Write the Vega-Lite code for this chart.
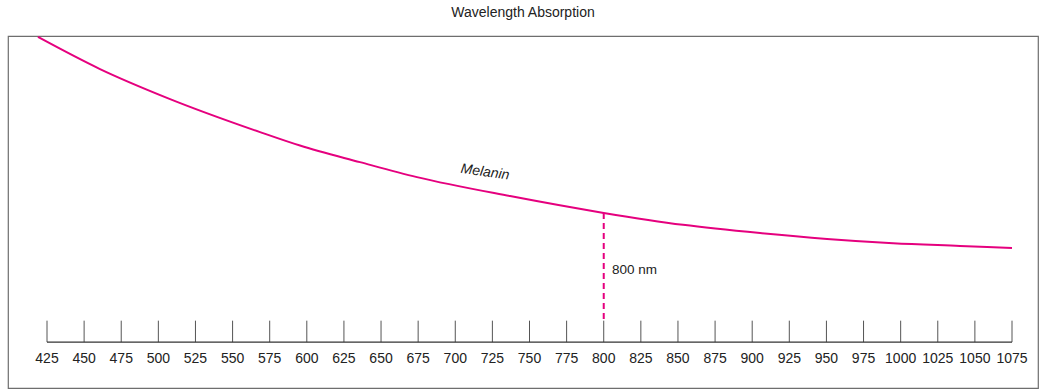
{
  "$schema": "https://vega.github.io/schema/vega-lite/v6.json",
  "width": 1030,
  "height": 352,
  "autosize": {"type": "none"},
  "padding": {"left": 8, "top": 36, "right": 10, "bottom": 2},
  "title": {"text": "Wavelength Absorption", "fontSize": 14, "fontWeight": "normal", "font": "Liberation Sans", "color": "#222222", "anchor": "middle", "offset": 13},
  "config": {
    "view": {"stroke": "#6e6e6e", "strokeWidth": 1.2},
    "font": "Liberation Sans"
  },
  "datasets": {
    "curve": [
      {"nm": 418.9, "abs": 99.7},
      {"nm": 460.7, "abs": 89.2},
      {"nm": 505.8, "abs": 79.8},
      {"nm": 568.5, "abs": 68.6},
      {"nm": 595.4, "abs": 64.2},
      {"nm": 635.8, "abs": 58.8},
      {"nm": 674.2, "abs": 53.9},
      {"nm": 736.9, "abs": 47.7},
      {"nm": 800, "abs": 42.2},
      {"nm": 853.4, "abs": 38.3},
      {"nm": 905.3, "abs": 35.6},
      {"nm": 950.4, "abs": 33.7},
      {"nm": 994.9, "abs": 32.3},
      {"nm": 1040, "abs": 31.4},
      {"nm": 1075, "abs": 30.7}
    ],
    "ticks": [
      {"nm": 425}, {"nm": 450}, {"nm": 475}, {"nm": 500}, {"nm": 525}, {"nm": 550}, {"nm": 575},
      {"nm": 600}, {"nm": 625}, {"nm": 650}, {"nm": 675}, {"nm": 700}, {"nm": 725}, {"nm": 750},
      {"nm": 775}, {"nm": 800}, {"nm": 825}, {"nm": 850}, {"nm": 875}, {"nm": 900}, {"nm": 925},
      {"nm": 950}, {"nm": 975}, {"nm": 1000}, {"nm": 1025}, {"nm": 1050}, {"nm": 1075}
    ],
    "marker": [{"nm": 800, "top": 42.2, "bottom": 7, "label": "800 nm", "labelNm": 805.6, "labelAbs": 23.5}],
    "axisline": [{"start": 425, "end": 1075, "level": 0}],
    "series": [{"name": "Melanin", "nm": 720, "abs": 55.5}]
  },
  "encoding": {
    "x": {"type": "quantitative", "scale": {"domain": [398.73, 1092.51], "nice": false, "zero": false}, "axis": null},
    "y": {"type": "quantitative", "scale": {"domain": [-15, 100], "nice": false, "zero": false}, "axis": null}
  },
  "layer": [
    {
      "data": {"name": "ticks"},
      "mark": {"type": "rule", "color": "#555555", "strokeWidth": 1},
      "encoding": {
        "x": {"field": "nm", "type": "quantitative"},
        "y": {"datum": 0, "type": "quantitative"},
        "y2": {"datum": 7}
      }
    },
    {
      "data": {"name": "ticks"},
      "mark": {"type": "text", "align": "center", "baseline": "top", "dy": 10, "fontSize": 14, "color": "#222222", "font": "Liberation Sans"},
      "encoding": {
        "x": {"field": "nm", "type": "quantitative"},
        "y": {"datum": 0, "type": "quantitative"},
        "text": {"field": "nm", "type": "quantitative", "format": "d"}
      }
    },
    {
      "data": {"name": "axisline"},
      "mark": {"type": "rule", "color": "#333333", "strokeWidth": 1.2},
      "encoding": {
        "x": {"field": "start", "type": "quantitative"},
        "x2": {"field": "end"},
        "y": {"field": "level", "type": "quantitative"}
      }
    },
    {
      "data": {"name": "curve"},
      "mark": {"type": "line", "color": "#e5007e", "strokeWidth": 2, "interpolate": "monotone"},
      "encoding": {
        "x": {"field": "nm", "type": "quantitative"},
        "y": {"field": "abs", "type": "quantitative"}
      }
    },
    {
      "data": {"name": "marker"},
      "mark": {"type": "rule", "color": "#e5007e", "strokeWidth": 2, "strokeDash": [6, 4]},
      "encoding": {
        "x": {"field": "nm", "type": "quantitative"},
        "y": {"field": "top", "type": "quantitative"},
        "y2": {"field": "bottom"}
      }
    },
    {
      "data": {"name": "marker"},
      "mark": {"type": "text", "align": "left", "baseline": "middle", "fontSize": 13.5, "color": "#222222", "font": "Liberation Sans"},
      "encoding": {
        "x": {"field": "labelNm", "type": "quantitative"},
        "y": {"field": "labelAbs", "type": "quantitative"},
        "text": {"field": "label"}
      }
    },
    {
      "data": {"name": "series"},
      "mark": {"type": "text", "align": "center", "baseline": "middle", "fontSize": 14, "fontStyle": "italic", "angle": 8, "color": "#222222", "font": "Liberation Sans"},
      "encoding": {
        "x": {"field": "nm", "type": "quantitative"},
        "y": {"field": "abs", "type": "quantitative"},
        "text": {"field": "name"}
      }
    }
  ]
}
